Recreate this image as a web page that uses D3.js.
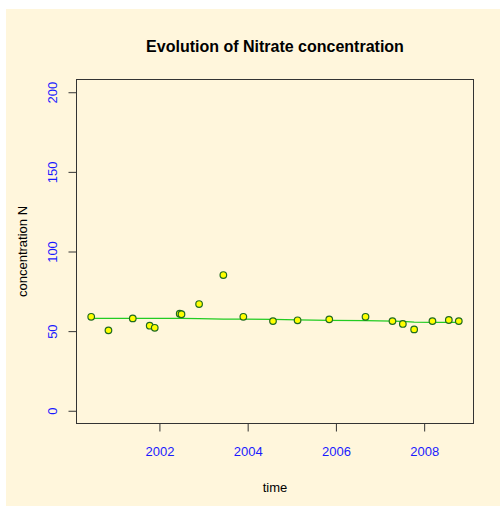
<!DOCTYPE html>
<html>
<head>
<meta charset="utf-8">
<script src="https://cdn.jsdelivr.net/npm/d3@7"></script>
<style>
  body { margin: 0; background: #fff; }
  text { font-family: "Liberation Sans", Arial, sans-serif; }
</style>
</head>
<body>
<svg width="500" height="506"></svg>
<script>
// sampling dates (decimal years) and nitrate concentration
const times = [2000.454, 2000.845, 2001.396, 2001.780, 2001.894, 2002.46, 2002.50, 2002.899,
  2003.449, 2003.902, 2004.574, 2005.131, 2005.849, 2006.671, 2007.282, 2007.517,
  2007.773, 2008.188, 2008.559, 2008.785];
const values = [59.0, 50.5, 58.0, 53.4, 52.1, 60.9, 60.6, 67.0,
  85.2, 59.0, 56.3, 56.8, 57.4, 59.0, 56.3, 54.5,
  51.1, 56.3, 57.0, 56.3];
// smoothed trend at the same dates
const trend = [58.0, 58.0, 58.0, 58.0, 58.0, 58.0, 58.0, 57.8,
  57.6, 57.5, 57.4, 57.1, 56.8, 56.6, 56.3, 56.1,
  55.7, 55.5, 55.5, 55.5];
const xTicks = [2002, 2004, 2006, 2008];
const yTicks = [0, 50, 100, 150, 200];

const svg = d3.select('svg');
const pLeft = 76.5, pRight = 473.5, pTop = 79.5, pBottom = 423.5;

svg.append('rect')
  .attr('x', 6).attr('y', 9).attr('width', 494).attr('height', 497)
  .attr('fill', '#fff6dc');

// R style 4% padding on both axes
const xr = d3.extent(times);
const xpad = (xr[1] - xr[0]) * 0.04;
const x = d3.scaleLinear().domain([xr[0] - xpad, xr[1] + xpad]).range([pLeft, pRight]);
const y = d3.scaleLinear().domain([-8, 208]).range([pBottom, pTop]);

svg.append('text')
  .attr('x', (pLeft + pRight) / 2).attr('y', 52)
  .attr('text-anchor', 'middle')
  .attr('font-size', 16).attr('font-weight', 'bold')
  .text('Evolution of Nitrate concentration');

// x axis
const xAxis = svg.append('g')
  .attr('transform', `translate(0, ${pBottom})`)
  .call(d3.axisBottom(x).tickValues(xTicks).tickFormat(d3.format('d')).tickSize(8).tickPadding(15));
xAxis.select('.domain').attr('d', `M${x(2002)},0H${x(2008)}`).attr('stroke', '#333');
xAxis.selectAll('.tick line').attr('stroke', '#333');
xAxis.selectAll('text').attr('font-size', 13).attr('fill', '#1a1aff').attr('font-family', '"Liberation Sans", Arial, sans-serif');

// y axis with rotated labels
const yAxis = svg.append('g')
  .attr('transform', `translate(${pLeft}, 0)`)
  .call(d3.axisLeft(y).tickValues(yTicks).tickSize(8));
yAxis.select('.domain').attr('d', `M0,${y(0)}V${y(200)}`).attr('stroke', '#333');
yAxis.selectAll('.tick line').attr('stroke', '#333');
yAxis.selectAll('.tick text')
  .attr('x', null).attr('dy', null)
  .attr('transform', 'translate(-20,0) rotate(-90)')
  .attr('text-anchor', 'middle')
  .attr('font-size', 13).attr('fill', '#1a1aff').attr('font-family', '"Liberation Sans", Arial, sans-serif');

svg.append('rect')
  .attr('x', pLeft).attr('y', pTop).attr('width', pRight - pLeft).attr('height', pBottom - pTop)
  .attr('fill', 'none').attr('stroke', '#333');

svg.append('text')
  .attr('x', (pLeft + pRight) / 2).attr('y', 492)
  .attr('text-anchor', 'middle').attr('font-size', 13)
  .text('time');

svg.append('text')
  .attr('transform', `translate(27, ${(pTop + pBottom) / 2}) rotate(-90)`)
  .attr('text-anchor', 'middle').attr('font-size', 13)
  .text('concentration N');

const data = times.map((t, i) => ({ t: t, v: values[i], s: trend[i] }));

svg.append('path')
  .datum(data)
  .attr('fill', 'none').attr('stroke', '#22cc22').attr('stroke-width', 1.2)
  .attr('d', d3.line().x(d => x(d.t)).y(d => y(d.s)));

svg.selectAll('circle.pt')
  .data(data)
  .enter()
  .append('circle')
  .attr('class', 'pt')
  .attr('cx', d => x(d.t))
  .attr('cy', d => y(d.v))
  .attr('r', 3.3)
  .attr('fill', '#ffff00')
  .attr('stroke', '#1f6b1f')
  .attr('stroke-width', 1.2);
</script>
</body>
</html>
